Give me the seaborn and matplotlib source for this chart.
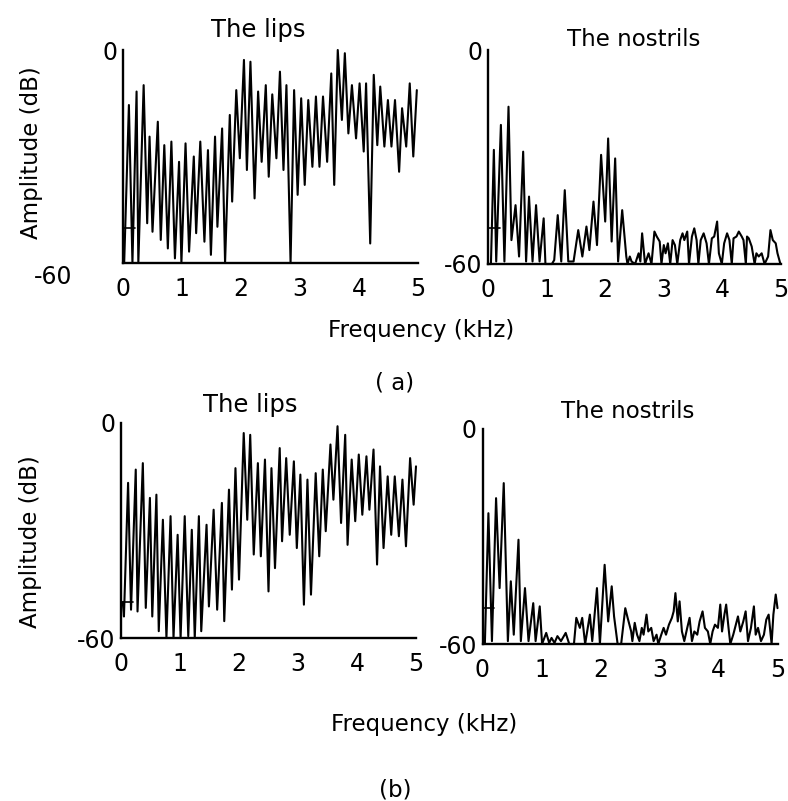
import pandas as pd
import seaborn as sns
import matplotlib.pyplot as plt
from matplotlib.ticker import FixedLocator
from matplotlib.transforms import ScaledTranslation

# Spectra (frequency in kHz, amplitude in dB)
# (a) top row
lips_a_khz = [0.02, 0.10, 0.16, 0.23, 0.26, 0.35, 0.41, 0.45, 0.50, 0.59, 0.64, 0.70, 0.76, 0.82, 0.88, 0.95, 0.99,
              1.06, 1.12, 1.20, 1.24, 1.31, 1.38, 1.44, 1.49, 1.56, 1.60, 1.68, 1.73, 1.81, 1.85, 1.92, 1.98,
              2.05, 2.10, 2.16, 2.23, 2.29, 2.35, 2.42, 2.47, 2.53, 2.60, 2.66, 2.72, 2.77, 2.84, 2.90, 2.96,
              3.02, 3.08, 3.14, 3.21, 3.27, 3.33, 3.39, 3.46, 3.53, 3.58, 3.64, 3.71, 3.76, 3.82, 3.88, 3.95,
              4.01, 4.08, 4.12, 4.19, 4.25, 4.31, 4.36, 4.43, 4.49, 4.55, 4.61, 4.68, 4.73, 4.80, 4.86, 4.92, 4.98]
lips_a_db = [-60, -15.5, -60, -11.7, -60, -9.9, -48.8, -24.4, -51.2, -20.2, -53.5, -26.8, -55.9, -25.8, -58.7, -31.5, -60,
             -26.3, -56.8, -30.0, -51.6, -25.8, -54.0, -28.2, -57.7, -24.4, -49.8, -22.1, -60, -18.3, -42.7, -11.3, -30.5,
             -2.8, -33.8, -3.3, -41.8, -11.7, -31.5, -9.9, -35.7, -12.5, -30.5, -6.1, -33.8, -9.9, -60, -11.3, -40.8,
             -13.6, -38.0, -14.1, -32.9, -13.1, -32.9, -13.1, -31.5, -6.6, -38.0, 0, -19.7, -0.9, -23.5, -9.9, -24.9,
             -9.4, -28.6, -9.4, -54.5, -7.0, -26.8, -10.3, -27.2, -14.1, -27.2, -14.1, -34.3, -16.4, -27.2, -9.4, -30.0, -11.3]

nostrils_a_khz = [0.01, 0.05, 0.10, 0.14, 0.22, 0.28, 0.35, 0.40, 0.47, 0.53, 0.60, 0.65, 0.70, 0.76, 0.82, 0.88, 0.95, 0.98,
                  1.09, 1.13, 1.19, 1.25, 1.31, 1.37, 1.46, 1.54, 1.61, 1.68, 1.73, 1.80, 1.86, 1.93,
                  2.00, 2.05, 2.11, 2.17, 2.22, 2.29, 2.36, 2.38, 2.42, 2.45, 2.51, 2.57, 2.60, 2.63, 2.68, 2.74, 2.79,
                  2.84, 2.88, 2.93, 2.96, 3.00, 3.03, 3.07, 3.11, 3.15, 3.19, 3.23, 3.28, 3.32, 3.35, 3.40, 3.43,
                  3.48, 3.52, 3.56, 3.59, 3.63, 3.68, 3.73, 3.77, 3.82, 3.86, 3.91, 3.94, 3.99,
                  4.03, 4.08, 4.12, 4.16, 4.19, 4.24, 4.28, 4.33, 4.36, 4.40, 4.42, 4.45, 4.50, 4.55, 4.58, 4.62,
                  4.67, 4.72, 4.78, 4.82, 4.86, 4.91, 4.94, 4.99]
nostrils_a_db = [-60, -60, -28.0, -59.3, -21.0, -59.3, -15.9, -53.3, -43.5, -57.9, -28.5, -59.3, -41.1, -59.3, -43.5, -59.3, -47.2, -60,
                 -60, -58.9, -46.3, -59.3, -39.3, -59.3, -59.3, -50.5, -57.9, -49.5, -56.1, -42.5, -54.7, -29.4,
                 -48.1, -24.8, -53.7, -30.4, -59.3, -44.9, -57.9, -60, -57.9, -59.3, -60, -57.0, -59.3, -51.4, -60, -57.0, -60,
                 -50.9, -52.3, -53.7, -60, -54.7, -57.0, -54.2, -60, -53.3, -54.7, -60, -53.3, -51.4, -53.3, -50.9, -60,
                 -52.3, -50.0, -53.3, -60, -53.3, -51.4, -54.2, -60, -52.8, -52.3, -48.1, -57.0, -60,
                 -54.2, -51.4, -53.3, -60, -52.8, -52.3, -50.9, -52.3, -53.3, -60, -52.3, -52.8, -55.1, -60, -57.0, -57.9,
                 -57.0, -60, -57.9, -50.5, -53.3, -54.2, -57.0, -60]

# (b) bottom row
lips_b_khz = [0.03, 0.05, 0.12, 0.17, 0.25, 0.28, 0.37, 0.42, 0.49, 0.53, 0.60, 0.64, 0.71, 0.77, 0.84, 0.89, 0.96,
              1.01, 1.08, 1.14, 1.20, 1.25, 1.32, 1.36, 1.45, 1.49, 1.57, 1.63, 1.71, 1.75, 1.83, 1.88, 1.94,
              2.00, 2.08, 2.14, 2.19, 2.25, 2.32, 2.37, 2.44, 2.50, 2.55, 2.61, 2.69, 2.73, 2.80, 2.86, 2.93, 2.98,
              3.04, 3.10, 3.16, 3.22, 3.30, 3.36, 3.42, 3.47, 3.55, 3.60, 3.67, 3.73, 3.80, 3.84, 3.91, 3.97,
              4.03, 4.09, 4.16, 4.21, 4.28, 4.34, 4.39, 4.45, 4.52, 4.58, 4.64, 4.71, 4.77, 4.83, 4.90, 4.96, 5.00]
lips_b_db = [-50, -54.0, -16.7, -52.1, -13.0, -52.6, -11.2, -51.6, -20.9, -54.0, -20.0, -58.1, -27.0, -60, -26.0, -60, -31.2,
             -60, -26.0, -59.5, -29.8, -60, -26.0, -58.1, -28.4, -51.2, -24.2, -52.1, -22.3, -55.3, -18.6, -46.5, -12.6,
             -43.7, -2.8, -27.0, -3.3, -36.7, -11.2, -37.2, -10.2, -47.0, -12.6, -40.5, -7.0, -33.0, -9.8, -31.2, -10.7, -34.9,
             -14.4, -50.7, -15.8, -47.9, -14.0, -37.2, -13.0, -30.2, -6.0, -21.4, -0.9, -27.9, -3.3, -34.0, -10.2, -27.4,
             -8.8, -25.6, -9.3, -24.2, -7.4, -39.5, -12.1, -34.9, -14.9, -31.2, -14.9, -31.6, -15.8, -34.4, -9.8, -22.8, -12.1]

nostrils_b_khz = [0.04, 0.10, 0.16, 0.23, 0.29, 0.36, 0.43, 0.48, 0.53, 0.61, 0.65, 0.72, 0.78, 0.86, 0.90, 0.97,
                  1.01, 1.08, 1.13, 1.17, 1.22, 1.27, 1.33, 1.41, 1.47, 1.55, 1.59, 1.65, 1.69, 1.74, 1.82, 1.86, 1.94, 1.99,
                  2.07, 2.13, 2.19, 2.23, 2.29, 2.35, 2.42, 2.46, 2.52, 2.54, 2.58, 2.62, 2.66, 2.70, 2.73, 2.78, 2.81, 2.86,
                  2.90, 2.95, 2.98, 3.03, 3.07, 3.11, 3.16, 3.21, 3.24, 3.27, 3.31, 3.34, 3.38, 3.42, 3.47, 3.51, 3.55,
                  3.59, 3.64, 3.68, 3.73, 3.77, 3.82, 3.86, 3.90, 3.94, 3.99, 4.03, 4.06, 4.10, 4.13, 4.17, 4.20, 4.25,
                  4.28, 4.33, 4.37, 4.42, 4.46, 4.50, 4.55, 4.60, 4.63, 4.67, 4.72, 4.77, 4.81, 4.85, 4.90, 4.93, 4.97, 5.00]
nostrils_b_db = [-60, -23.5, -59.2, -19.3, -44.4, -15.1, -59.2, -42.5, -57.4, -30.9, -59.2, -44.4, -59.2, -48.6, -59.2, -49.5,
                 -60, -56.9, -59.7, -58.3, -59.7, -57.8, -59.2, -56.9, -60, -60, -52.7, -55.5, -52.7, -60, -51.8, -59.2, -44.4, -60,
                 -37.9, -53.7, -43.9, -52.3, -60, -60, -50.0, -52.7, -56.5, -59.2, -54.1, -57.4, -59.2, -55.5, -57.4, -51.8, -56.5, -55.5,
                 -59.2, -57.4, -60, -57.4, -55.5, -57.4, -54.6, -52.7, -50.9, -45.8, -53.7, -48.1, -56.5, -59.2, -55.5, -52.7, -59.2,
                 -56.5, -57.4, -53.7, -50.9, -55.5, -56.5, -60, -56.5, -54.6, -55.5, -49.0, -56.5, -51.8, -49.0, -55.5, -60, -57.4,
                 -55.5, -52.3, -56.5, -53.7, -50.9, -59.2, -55.5, -49.5, -57.4, -55.5, -59.2, -57.4, -53.2, -51.8, -60, -51.8, -46.2, -50.0]

W, H = 788, 801

sns.set_style("white")
plt.rcParams['font.family'] = ['DejaVu Sans']
plt.rcParams['text.color'] = 'black'
plt.rcParams['xtick.color'] = 'black'
plt.rcParams['ytick.color'] = 'black'
plt.rcParams['axes.labelcolor'] = 'black'

fig = plt.figure(figsize=(W / 100, H / 100), dpi=100)


def px(x, y):
    # pixel position -> figure fraction
    return x / W, 1 - y / H


def spectrum(left, top, right, bottom, khz, db):
    ax = fig.add_axes([left / W, 1 - bottom / H, (right - left) / W, (bottom - top) / H])
    df = pd.DataFrame({'khz': khz, 'db': db})
    sns.lineplot(data=df, x='khz', y='db', ax=ax, color='black', lw=1.5,
                 estimator=None, sort=False, clip_on=False)
    ax.set_xlim(0, 5)
    ax.set_ylim(-60, 0)
    sns.despine(ax=ax)
    for s in ['left', 'bottom']:
        ax.spines[s].set_linewidth(1.7)
        ax.spines[s].set_color('black')
    ax.set_xlabel('')
    ax.set_ylabel('')
    ax.set_xticks(range(6))
    ax.set_xticklabels([str(i) for i in range(6)])
    ax.set_yticks([-60, 0])
    ax.set_yticklabels(['-60', '0'])
    ax.yaxis.set_minor_locator(FixedLocator([-50, -40, -30, -20, -10]))
    ax.tick_params(axis='x', direction='inout', length=4, width=1.2, pad=8, labelsize=17)
    ax.tick_params(axis='y', which='major', direction='in', length=6, width=1.4, pad=4, labelsize=17)
    ax.tick_params(axis='y', which='minor', direction='inout', length=3, width=1.2)
    # longer inner mark at -50 dB as on the original plots
    ax.axhline(-50, xmin=0, xmax=0.04, color='black', lw=1.2)
    ax.grid(False)
    return ax


ax_la = spectrum(123, 50, 418, 263, lips_a_khz, lips_a_db)
ax_na = spectrum(488, 50, 781, 264, nostrils_a_khz, nostrils_a_db)
ax_lb = spectrum(121, 423, 416, 638, lips_b_khz, lips_b_db)
ax_nb = spectrum(482.5, 429, 777.5, 644, nostrils_b_khz, nostrils_b_db)

# the -60 label of the first panel sits lower-left in the original
lab = ax_la.get_yticklabels()[0]
lab.set_transform(lab.get_transform() + ScaledTranslation(-0.45, -0.12, fig.dpi_scale_trans))

fs = 16.5
fig.text(*px(258, 30), 'The lips', ha='center', va='center', fontsize=17.5)
fig.text(*px(634, 40), 'The nostrils', ha='center', va='center', fontsize=fs)
fig.text(*px(250, 405), 'The lips', ha='center', va='center', fontsize=17.5)
fig.text(*px(628, 412), 'The nostrils', ha='center', va='center', fontsize=fs)

fig.text(*px(32, 153), 'Amplitude (dB)', ha='center', va='center', rotation=90, fontsize=fs)
fig.text(*px(30, 542), 'Amplitude (dB)', ha='center', va='center', rotation=90, fontsize=fs)

fig.text(*px(421, 330), 'Frequency (kHz)', ha='center', va='center', fontsize=fs)
fig.text(*px(424, 725), 'Frequency (kHz)', ha='center', va='center', fontsize=fs)

fig.text(*px(395, 383), '( a)', ha='center', va='center', fontsize=fs)
fig.text(*px(395, 790), '(b)', ha='center', va='center', fontsize=fs)

fig.savefig('out.png', dpi=100)
